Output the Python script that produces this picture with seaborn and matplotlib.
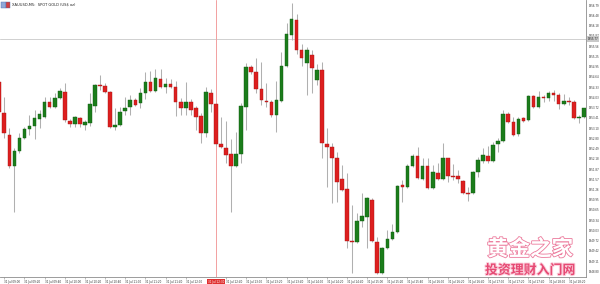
import numpy as np
import pandas as pd
import matplotlib
matplotlib.use("Agg")
import matplotlib.pyplot as plt
import matplotlib.transforms as mtransforms
from matplotlib import patheffects as pe
from matplotlib.patches import Rectangle
import seaborn as sns

# ---------------- data (XAUUSD M5) ----------------
opens = [1954.48, 1953.55, 1952.89, 1951.96, 1952.41, 1952.80, 1953.07, 1953.16, 1953.37, 1953.43,
         1953.88, 1953.73, 1954.00, 1954.18, 1953.31, 1953.22, 1953.40, 1953.19, 1953.25, 1953.76,
         1954.39, 1954.36, 1954.18, 1953.13, 1953.19, 1953.61, 1953.73, 1953.94, 1953.85, 1954.15,
         1954.48, 1954.21, 1954.57, 1954.33, 1954.42, 1954.33, 1953.88, 1953.70, 1953.88, 1953.70,
         1953.46, 1952.95, 1954.15, 1953.82, 1952.62, 1952.50, 1952.32, 1951.96, 1952.32, 1953.73,
         1954.93, 1954.78, 1954.27, 1953.91, 1953.88, 1953.49, 1953.91, 1954.96, 1955.89, 1956.34,
         1955.44, 1955.05, 1955.29, 1954.54, 1954.84, 1952.62, 1952.53, 1952.20, 1951.57, 1951.27,
         1949.71, 1949.68, 1950.31, 1950.43, 1950.94, 1949.68, 1948.75, 1949.50, 1949.77, 1949.98,
         1951.39, 1951.33, 1951.96, 1952.26, 1951.57, 1951.96, 1951.30, 1951.75, 1951.57, 1952.20,
         1951.66, 1951.66, 1951.51, 1951.15, 1951.15, 1951.78, 1952.11, 1952.26, 1952.11, 1952.62,
         1952.71, 1953.52, 1953.28, 1952.92, 1953.40, 1953.34, 1954.06, 1953.73, 1954.03, 1954.00,
         1954.15, 1954.09, 1953.82, 1953.91, 1953.88, 1953.40, 1953.43]
highs = [1954.54, 1954.03, 1953.10, 1952.50, 1952.95, 1953.13, 1953.49, 1953.64, 1953.64, 1954.03,
         1954.03, 1954.15, 1954.30, 1954.45, 1953.37, 1953.46, 1953.43, 1953.34, 1954.15, 1954.42,
         1954.69, 1954.45, 1954.21, 1953.70, 1953.73, 1954.03, 1954.09, 1954.00, 1954.30, 1954.78,
         1954.81, 1954.87, 1954.87, 1954.60, 1954.57, 1954.51, 1954.00, 1954.48, 1953.97, 1953.76,
         1953.55, 1954.33, 1954.27, 1953.85, 1953.43, 1953.31, 1952.77, 1952.98, 1953.85, 1955.05,
         1954.99, 1955.20, 1955.08, 1954.45, 1953.94, 1954.51, 1955.38, 1956.25, 1956.85, 1956.52,
         1955.62, 1955.53, 1955.44, 1955.02, 1955.08, 1953.10, 1952.65, 1952.38, 1951.99, 1951.75,
         1950.79, 1950.55, 1951.15, 1951.03, 1951.00, 1949.83, 1949.53, 1950.04, 1950.22, 1951.39,
         1951.54, 1952.02, 1952.32, 1952.53, 1952.20, 1952.20, 1951.99, 1952.05, 1952.65, 1952.20,
         1952.02, 1951.84, 1951.54, 1951.33, 1951.81, 1952.23, 1952.50, 1952.56, 1952.68, 1952.80,
         1953.64, 1953.58, 1953.43, 1953.43, 1953.43, 1954.09, 1954.09, 1954.21, 1954.09, 1954.21,
         1954.24, 1954.15, 1954.12, 1954.03, 1953.94, 1953.49, 1953.70]
lows = [1953.55, 1952.80, 1951.90, 1950.58, 1952.35, 1952.77, 1952.89, 1952.77, 1953.10, 1953.40,
        1953.70, 1953.70, 1953.97, 1953.28, 1953.13, 1953.13, 1953.13, 1953.04, 1953.16, 1953.58,
        1954.24, 1954.15, 1953.10, 1953.04, 1953.16, 1953.49, 1953.49, 1953.76, 1953.70, 1953.97,
        1954.18, 1954.18, 1954.30, 1954.15, 1954.30, 1953.46, 1953.49, 1953.49, 1953.49, 1953.04,
        1952.65, 1952.83, 1953.58, 1952.56, 1952.50, 1952.05, 1950.58, 1951.93, 1952.05, 1953.04,
        1954.72, 1954.15, 1953.79, 1953.73, 1953.43, 1952.98, 1953.88, 1954.93, 1955.74, 1955.32,
        1954.96, 1954.09, 1954.15, 1954.39, 1952.20, 1951.33, 1950.85, 1950.88, 1951.21, 1949.50,
        1948.75, 1949.65, 1950.13, 1949.50, 1949.68, 1948.72, 1948.72, 1949.47, 1949.74, 1949.95,
        1950.88, 1951.30, 1951.93, 1951.57, 1951.54, 1951.27, 1951.27, 1951.54, 1951.54, 1951.48,
        1951.54, 1951.45, 1951.12, 1950.91, 1951.12, 1951.63, 1952.05, 1952.05, 1952.08, 1952.38,
        1952.68, 1953.25, 1952.86, 1952.86, 1953.28, 1953.31, 1953.70, 1953.70, 1953.88, 1953.91,
        1953.91, 1953.67, 1953.79, 1953.79, 1953.37, 1953.25, 1953.40]
closes = [1953.58, 1952.95, 1951.95, 1952.41, 1952.80, 1953.07, 1953.16, 1953.40, 1953.52, 1953.88,
          1953.73, 1954.00, 1954.21, 1953.34, 1953.22, 1953.43, 1953.22, 1953.28, 1953.82, 1954.39,
          1954.36, 1954.18, 1953.13, 1953.19, 1953.58, 1953.70, 1953.94, 1953.79, 1954.15, 1954.48,
          1954.21, 1954.60, 1954.33, 1954.42, 1954.33, 1953.88, 1953.70, 1953.88, 1953.64, 1953.43,
          1952.95, 1954.18, 1953.82, 1952.62, 1952.53, 1952.29, 1951.96, 1952.32, 1953.76, 1954.93,
          1954.78, 1954.27, 1953.94, 1953.88, 1953.49, 1953.94, 1954.96, 1955.92, 1956.37, 1955.44,
          1955.20, 1955.44, 1954.90, 1954.84, 1952.65, 1952.53, 1952.20, 1951.48, 1951.24, 1949.71,
          1949.68, 1950.31, 1950.46, 1951.00, 1949.71, 1948.75, 1949.50, 1949.77, 1949.98, 1951.36,
          1951.33, 1951.96, 1952.26, 1951.60, 1951.96, 1951.30, 1951.78, 1951.57, 1952.20, 1951.66,
          1951.63, 1951.57, 1951.15, 1951.12, 1951.78, 1952.14, 1952.29, 1952.11, 1952.59, 1952.71,
          1953.52, 1953.28, 1952.89, 1953.37, 1953.31, 1954.06, 1953.73, 1954.03, 1954.00, 1954.15,
          1954.09, 1953.82, 1953.91, 1953.88, 1953.40, 1953.43, 1953.70]

price_ticks = [1956.79, 1956.48, 1956.18, 1955.87, 1955.56, 1955.25, 1954.95, 1954.64, 1954.33,
               1954.03, 1953.72, 1953.41, 1953.10, 1952.80, 1952.49, 1952.18, 1951.87, 1951.57,
               1951.26, 1950.95, 1950.65, 1950.34, 1950.03, 1949.72, 1949.42, 1949.11, 1948.80]
# the 12:20 label sits under the red separator label in the reference, so it is not shown
time_tick_bars = [1, 5, 9, 13, 17, 21, 25, 29, 33, 37, 45, 49, 53, 57, 61, 65, 69, 73,
                  77, 81, 85, 89, 93, 97, 101, 105, 109, 113]
time_labels = ["31 Jul 09:00", "31 Jul 09:20", "31 Jul 09:40", "31 Jul 10:00", "31 Jul 10:20",
               "31 Jul 10:40", "31 Jul 11:00", "31 Jul 11:20", "31 Jul 11:40", "31 Jul 12:00",
               "31 Jul 12:40", "31 Jul 13:00", "31 Jul 13:20", "31 Jul 13:40",
               "31 Jul 14:00", "31 Jul 14:20", "31 Jul 14:40", "31 Jul 15:00", "31 Jul 15:20",
               "31 Jul 15:40", "31 Jul 16:00", "31 Jul 16:20", "31 Jul 16:40", "31 Jul 17:00",
               "31 Jul 17:20", "31 Jul 17:40", "31 Jul 18:00", "31 Jul 18:20"]
hline_price = 1955.77
vline_bar = 43
vline_label = "31 Jul 12:30"
title_text = "XAUUSD,M5:  SPOT GOLD (US$ oz)"
watermark_1 = "黄金之家"
watermark_2 = "投资理财入门网"

# ---------------- figure ----------------
sns.set_theme(style="white")
plt.rcParams['font.family'] = ['DejaVu Sans', 'Noto Sans CJK SC']

df = pd.DataFrame({"open": opens, "high": highs, "low": lows, "close": closes})
df["bar"] = np.arange(len(df))
up = df["close"] > df["open"]
body_col = np.where(up, "#1b7d1b", "#dd1f1f")
edge_col = np.where(up, "#0f5a0f", "#a81414")

fig = plt.figure(figsize=(6, 2.84), dpi=100)
ax = fig.add_axes([0, 7 / 284, 586 / 600, 277 / 284])
ax.set_facecolor("white")

ax.axhline(hline_price, color="#d0d0d0", lw=0.7, zorder=0)
ax.axvline(vline_bar, color="#f2a0a0", lw=0.7, zorder=0)

ax.vlines(df["bar"], df["low"], df["high"], color="#b0b0b0", lw=0.75, zorder=1)
bottoms = np.minimum(df["open"], df["close"])
heights = np.maximum((df["close"] - df["open"]).abs(), 0.025)
ax.bar(df["bar"], heights, bottom=bottoms, width=0.72, color=body_col,
       edgecolor=edge_col, linewidth=0.3, zorder=2)

ax.set_xlim(0.147, 116.42)
ax.set_ylim(1948.63, 1956.94)

ax.yaxis.tick_right()
ax.set_yticks(price_ticks)
ax.set_yticklabels([f"{v:.2f}" for v in price_ticks])
ax.tick_params(axis="y", length=1.5, width=0.4, color="#888888", labelsize=1.9,
               pad=0.5, labelcolor="#333333", right=True, left=False)
ax.set_xticks(time_tick_bars)
ax.set_xticklabels(time_labels)
ax.tick_params(axis="x", length=1.5, width=0.4, color="#888888", labelsize=2.0,
               pad=0.6, labelcolor="#333333", bottom=True)
for lab in ax.get_xticklabels():
    lab.set_ha("left")

sns.despine(ax=ax, left=True, top=True, right=False, bottom=False)
for s in ("right", "bottom"):
    ax.spines[s].set_color("#8c8c8c")
    ax.spines[s].set_linewidth(0.6)
ax.grid(False)

# price label box on the right axis for the horizontal line
tr_y = mtransforms.blended_transform_factory(ax.transAxes, ax.transData)
ax.text(1.003, hline_price, f"{hline_price:.2f}", transform=tr_y, fontsize=1.9,
        va="center", ha="left", color="#222222", clip_on=False,
        bbox=dict(boxstyle="square,pad=0.2", fc="#c8c8c8", ec="none"))

# red time label under the vertical line
tr_x = mtransforms.blended_transform_factory(ax.transData, ax.transAxes)
ax.text(vline_bar, -0.012, vline_label, transform=tr_x, fontsize=2.0, va="top",
        ha="center", color="white", clip_on=False,
        bbox=dict(boxstyle="square,pad=0.35", fc="#e03030", ec="none"))

# title with small icon
fig.patches.append(Rectangle((1 / 600, 1 - 8 / 284), 5 / 600, 6 / 284,
                             transform=fig.transFigure, fc="#8fa8d8", ec="#5070b0", lw=0.3))
fig.patches.append(Rectangle((6 / 600, 1 - 8 / 284), 4 / 600, 6 / 284,
                             transform=fig.transFigure, fc="#d04040", ec="#5070b0", lw=0.3))
fig.text(12 / 600, 1 - 4.5 / 284, title_text, fontsize=2.6, va="center", ha="left",
         color="#222222")

# watermark
fig.text(530 / 600, 1 - 249 / 284, watermark_1, fontsize=15.5, va="center", ha="center",
         family=["Noto Sans CJK SC"], color="white", fontweight="bold",
         path_effects=[pe.withStroke(linewidth=1.2, foreground="#ec7a9c")])
fig.text(530 / 600, 1 - 270 / 284, watermark_2, fontsize=9.3, va="center", ha="center",
         family=["Noto Sans CJK SC"], color="#e64a74", fontweight="bold",
         path_effects=[pe.withStroke(linewidth=1.4, foreground="#fbd0dc")])

fig.savefig("out.png", dpi=100, facecolor="white")
